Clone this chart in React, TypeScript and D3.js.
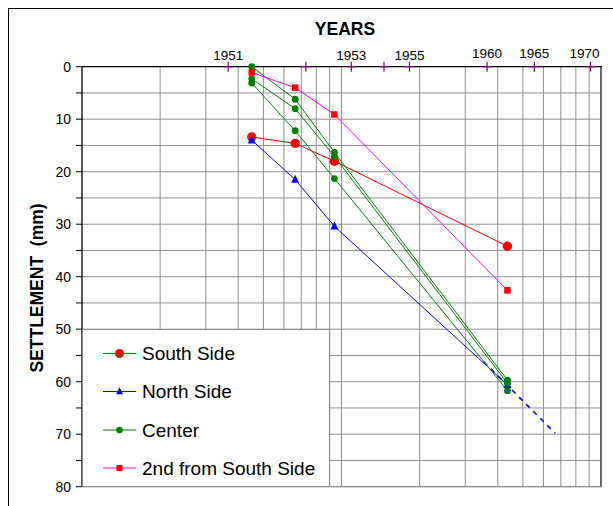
import React from "react";
import * as d3 from "d3";

// time axis: log scale, units of 100 days from start of 1950
const times = [4.51, 6.63, 9.39, 43.6];
const southSide = [13.4, 14.6, 18.0, 34.2];
const northSide = [14.0, 21.5, 30.4, 60.6];
const center1 = [0.0, 6.2, 16.3, 59.7];
const center2 = [2.3, 8.0, 17.1, 60.3];
const center3 = [3.1, 12.2, 21.3, 61.7];
const secondSouth = [1.1, 4.0, 9.1, 42.6];
const northTrendT = [35.3, 66.6];
const northTrendV = [56.2, 69.8];

const yearTickT = [3.66, 7.29, 10.91, 14.58, 18.28, 36.38, 55.37, 91.1];
const yearTickLabels = ["1951", "", "1953", "", "1955", "1960", "1965", "1970"];
const yTicks = [0, 10, 20, 30, 40, 50, 60, 70, 80];
const yMinor = [5, 15, 25, 35, 45, 55, 65, 75];
const xGrid = [2, 3, 4, 5, 6, 7, 8, 9, 10, 20, 30, 40, 50, 60, 70, 80, 90];
const legendNames = ["South Side", "North Side", "Center", "2nd from South Side"];

const FONT = "'Liberation Sans', Arial, sans-serif";

export default function App() {
  const x = d3.scaleLog().domain([1, 100]).range([82, 601]);
  const y = d3.scaleLinear().domain([0, 80]).range([66.7, 486.7]);
  const line = d3
    .line<[number, number]>()
    .x((d) => x(d[0]))
    .y((d) => y(d[1]));
  const pts = (vals: number[], ts: number[] = times) =>
    vals.map((v, i) => [ts[i], v] as [number, number]);

  const red = "#FF0000";
  const blue = "#0000FF";
  const green = "#008000";
  const magenta = "#FF00FF";
  const purple = "#800080";
  const grid = "#8f8f8f";

  const circle = (cx: number, cy: number, r: number, fill: string, key: string) => (
    <circle key={key} cx={cx} cy={cy} r={r} fill={fill} />
  );
  const square = (cx: number, cy: number, s: number, fill: string, key: string) => (
    <rect key={key} x={cx - s / 2} y={cy - s / 2} width={s} height={s} fill={fill} />
  );
  const tri = (cx: number, cy: number, s: number, fill: string, key: string) => (
    <path
      key={key}
      d={`M${cx},${cy - s * 0.6} L${cx + s / 2},${cy + s * 0.4} L${cx - s / 2},${cy + s * 0.4} Z`}
      fill={fill}
    />
  );

  const centers = [center1, center2, center3];
  const legendRows = [353.5, 391.5, 430, 468];

  return (
    <svg
      width={613}
      height={506}
      style={{ position: "absolute", left: 0, top: 0, background: "#fff" }}
      fontFamily={FONT}
    >
      <rect x={0} y={0} width={613} height={506} fill="#fff" />
      <rect x={8.5} y={8.5} width={700} height={600} fill="none" stroke="#000" strokeWidth={1} />

      {/* gridlines */}
      {xGrid.map((g) => (
        <line key={"vx" + g} x1={x(g)} x2={x(g)} y1={y(0)} y2={y(80)} stroke={grid} strokeWidth={1} />
      ))}
      {[...yTicks.slice(1), ...yMinor].map((v) => (
        <line key={"hy" + v} x1={x(1)} x2={x(100)} y1={y(v)} y2={y(v)} stroke={grid} strokeWidth={1} />
      ))}

      {/* frame edges */}
      <line x1={x(100)} x2={x(100)} y1={y(0)} y2={y(80)} stroke="#666" strokeWidth={2} />
      <line x1={x(1)} x2={x(100) + 1} y1={y(80)} y2={y(80)} stroke="#888" strokeWidth={1} />
      <line x1={x(1)} x2={x(100) + 1} y1={y(0)} y2={y(0)} stroke="#000" strokeWidth={1.3} />
      <line x1={x(1)} x2={x(1)} y1={y(0)} y2={y(80)} stroke="#000" strokeWidth={1.3} />

      {/* y ticks */}
      {[...yTicks, ...yMinor].map((v) => (
        <line key={"yt" + v} x1={x(1) - 6} x2={x(1)} y1={y(v)} y2={y(v)} stroke="#000" strokeWidth={1} />
      ))}
      {yTicks.map((v) => (
        <text key={"yl" + v} x={71} y={y(v) + 5} fontSize={14} textAnchor="end" fill="#000">
          {v}
        </text>
      ))}

      {/* year ticks */}
      {yearTickT.map((t, i) => (
        <g key={"yr" + i}>
          <line x1={x(t)} x2={x(t)} y1={y(0) - 5} y2={y(0) + 5} stroke={purple} strokeWidth={1.2} />
          <line x1={x(t) - 5} x2={x(t) + 5} y1={y(0)} y2={y(0)} stroke={purple} strokeWidth={1.2} />
          {yearTickLabels[i] && (
            <text
              x={Math.min(x(t), 584.5)}
              y={i >= 5 ? 57.5 : 60}
              fontSize={13.5}
              textAnchor="middle"
              fill="#000"
            >
              {yearTickLabels[i]}
            </text>
          )}
        </g>
      ))}

      {/* titles */}
      <text x={345} y={35.3} fontSize={17.5} fontWeight="bold" textAnchor="middle" fill="#000">
        YEARS
      </text>
      <text
        transform={`translate(43,288) rotate(-90)`}
        fontSize={17.5}
        fontWeight="bold"
        textAnchor="middle"
        fill="#000"
      >
        {"SETTLEMENT \u00A0(mm)"}
      </text>

      {/* series lines */}
      <path d={line(pts(southSide)) || ""} fill="none" stroke={red} strokeWidth={1} />
      <path d={line(pts(northSide)) || ""} fill="none" stroke={blue} strokeWidth={1} />
      <path
        d={line(pts(northTrendV, northTrendT)) || ""}
        fill="none"
        stroke={blue}
        strokeWidth={1.6}
        strokeDasharray="5,5"
      />
      {centers.map((c, i) => (
        <path key={"cl" + i} d={line(pts(c)) || ""} fill="none" stroke={green} strokeWidth={1} />
      ))}
      <path d={line(pts(secondSouth)) || ""} fill="none" stroke={magenta} strokeWidth={1} />

      {/* markers */}
      {southSide.map((v, i) => circle(x(times[i]), y(v), 4.7, red, "sm" + i))}
      {northSide.map((v, i) => tri(x(times[i]), y(v), 8, blue, "nm" + i))}
      {centers.map((c, j) => c.map((v, i) => circle(x(times[i]), y(v), 3.4, green, "cm" + j + i)))}
      {secondSouth.map((v, i) => square(x(times[i]), y(v), 6.5, red, "qm" + i))}

      {/* legend */}
      <rect x={82.5} y={329.5} width={247} height={157} fill="#fff" stroke="#888" strokeWidth={1} />
      {legendNames.map((name, i) => {
        const ly = legendRows[i];
        const col = [red, blue, green, magenta][i];
        let mk;
        if (i === 0) mk = circle(119.5, ly, 4.5, red, "lm");
        else if (i === 1) mk = tri(119.5, ly, 7, blue, "lm");
        else if (i === 2) mk = circle(119.5, ly, 3.3, green, "lm");
        else mk = square(119.5, ly, 6, red, "lm");
        return (
          <g key={"lg" + i}>
            <line x1={103} x2={136} y1={ly} y2={ly} stroke={col} strokeWidth={1} />
            {mk}
            <text x={142} y={ly + 6.8} fontSize={19} fill="#000">
              {name}
            </text>
          </g>
        );
      })}
    </svg>
  );
}
